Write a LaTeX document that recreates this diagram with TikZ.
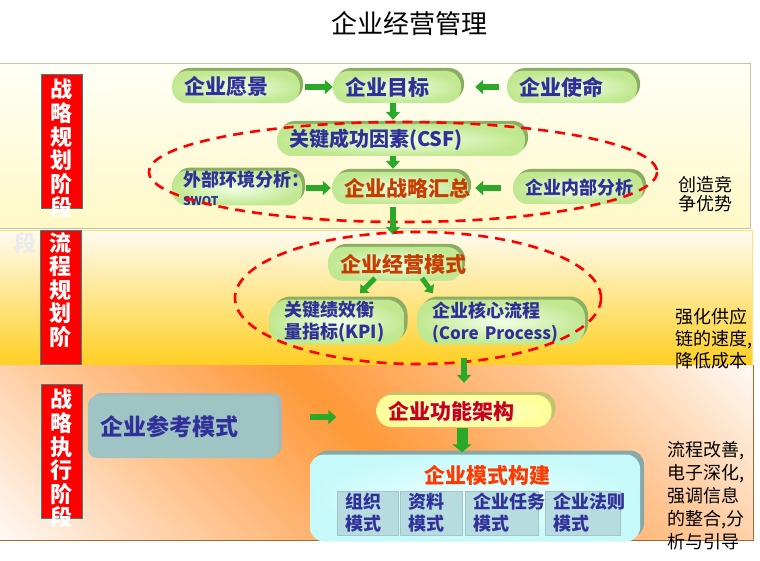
\documentclass[tikz,border=0pt]{standalone}
\usepackage{fontspec}
\setmainfont{Noto Sans CJK SC}
\usetikzlibrary{arrows.meta,shadows}
\definecolor{txtblue}{HTML}{30309A}
\definecolor{txtorange}{HTML}{C83C00}
\definecolor{txtcrimson}{HTML}{C8001E}
\definecolor{txtred}{HTML}{FF3A00}
\definecolor{pillout}{HTML}{C0E890}
\definecolor{pillin}{HTML}{F2FFE6}
\definecolor{pillshadow}{HTML}{8CAE62}
\definecolor{arrowgreen}{HTML}{29A829}
\definecolor{labelred}{HTML}{FF0000}
\definecolor{labelframe}{HTML}{3C8080}
\definecolor{bandAtop}{HTML}{FFFFF7}
\definecolor{bandAbot}{HTML}{FFF8C6}
\definecolor{bandAline}{HTML}{C6C4A8}
\definecolor{bandBtop}{HTML}{FFFCF2}
\definecolor{bandBmid}{HTML}{FFF0B8}
\definecolor{bandBbot}{HTML}{FFCF22}
\definecolor{bandBline}{HTML}{FFE070}
\definecolor{bandCpale}{HTML}{FFF8F2}
\definecolor{bandCpeach}{HTML}{FFC592}
\definecolor{bandCorange}{HTML}{FF9838}
\definecolor{bandCline}{HTML}{A86830}
\definecolor{reffill}{HTML}{9EC4C4}
\definecolor{refshadow}{HTML}{A8B8B8}
\definecolor{funcout}{HTML}{FFFF9A}
\definecolor{funcin}{HTML}{FFFFDC}
\definecolor{funcshadow}{HTML}{C4C470}
\definecolor{buildout}{HTML}{C6FAFA}
\definecolor{buildin}{HTML}{EEFFFF}
\definecolor{buildshadow}{HTML}{88A8A8}
\definecolor{subfill}{HTML}{B6DCE0}
\definecolor{subline}{HTML}{A4C4C8}
\definecolor{ghost}{HTML}{EBEBEB}
\pgfdeclarehorizontalshading{bandthree}{100bp}{color(0bp)=(bandCpale); color(15bp)=(bandCpale); color(32bp)=(bandCpeach); color(50bp)=(bandCorange); color(68bp)=(bandCpeach); color(85bp)=(bandCpale); color(100bp)=(bandCpale)}
\begin{document}
\begin{tikzpicture}[x=1pt,y=-1pt,
  pillbase/.style={rounded corners=15pt, inner xsep=12pt, inner ysep=0pt, minimum height=32pt, align=left},
  pill/.style={pillbase, inner color=pillin, outer color=pillout,
    general shadow={fill=pillshadow, shadow xshift=3pt, shadow yshift=3pt},
    text=txtblue, font=\bfseries\fontsize{21pt}{24pt}\selectfont},
  funcpill/.style={pillbase, inner color=funcin, outer color=funcout,
    general shadow={fill=funcshadow, shadow xshift=4pt, shadow yshift=3pt},
    text=txtcrimson, font=\bfseries\fontsize{21pt}{24pt}\selectfont},
  refbox/.style={fill=reffill, rounded corners=9pt, align=left, inner ysep=0pt,
    general shadow={fill=refshadow, shadow xshift=4pt, shadow yshift=3pt},
    text=txtblue, font=\bfseries\fontsize{23pt}{26pt}\selectfont},
  buildbox/.style={rounded corners=14pt, inner color=buildin, outer color=buildout,
    general shadow={fill=buildshadow, shadow xshift=4pt, shadow yshift=4pt}},
  subbox/.style={fill=subfill, draw=subline, line width=0.6pt, align=left, inner xsep=8pt,
    inner ysep=0pt, minimum height=44pt, text=txtblue, font=\bfseries\fontsize{18pt}{22pt}\selectfont},
  labelbox/.style={fill=labelred, draw=labelframe, line width=0.8pt, inner sep=0pt, minimum width=41pt, minimum height=134pt},
  labeltext/.style={text=white, font=\bfseries\fontsize{22pt}{23.6pt}\selectfont, align=center, inner sep=0pt, anchor=north},
  note/.style={text=black, align=left, inner sep=0pt, anchor=north west},
  garrow/.style={draw=arrowgreen, line width=6.5pt, -{Triangle[width=14pt,length=8pt]}},
  garrowsmall/.style={draw=arrowgreen, line width=5pt, -{Triangle[width=12pt,length=7pt]}},
  garrowbig/.style={draw=arrowgreen, line width=11pt, -{Triangle[width=19pt,length=8pt]}},
  dashring/.style={draw=red, line width=2.6pt, dash pattern=on 10pt off 7pt}
]
\useasboundingbox (0,0) rectangle (760,561);
\fill[white] (0,0) rectangle (760,561);
% bands
\shade[top color=bandAtop, bottom color=bandAbot] (0,63) rectangle (750,228);
\draw[bandAline, line width=0.8pt] (0,63) -- (750,63) -- (750,228) -- (0,228);
\shade[top color=bandBtop, middle color=bandBmid, bottom color=bandBbot] (0,230) rectangle (752,365);
\draw[bandBline, line width=0.8pt] (0,230) -- (752,230) -- (752,365);
\shade[shading=bandthree, shading angle=45] (0,365) rectangle (753,540);
\draw[bandCline, line width=1pt] (753,365) -- (753,540) -- (0,540);

% title
\node[font=\fontsize{26pt}{30pt}\selectfont] (title) at (409,24) {企业经营管理};

% stage labels
\node[labelbox] (lab1) at (61.5,141) {};
\node[labeltext] (lab1t) at (61.5,79) {战\\略\\规\\划\\阶\\段};
\node[text=ghost, font=\bfseries\fontsize{22pt}{24pt}\selectfont, inner sep=0pt] (ghostduan) at (25,243) {段};
\node[labelbox] (lab2) at (60.5,297) {};
\node[labeltext] (lab2t) at (60.5,232) {流\\程\\规\\划\\阶};
\node[labelbox] (lab3) at (61.5,451) {};
\node[labeltext] (lab3t) at (61.5,389) {战\\略\\执\\行\\阶\\段};

% band 1
\node[pill, text width=104pt] (vision) at (236,87) {企业愿景};
\node[pill, text width=104pt] (goal) at (397,87) {企业目标};
\node[pill, text width=106pt] (mission) at (572,87) {企业使命};
\node[pill, text width=224pt, font=\bfseries\fontsize{20pt}{24pt}\selectfont] (csf) at (401,140) {关键成功因素(CSF)};
\node[pill, text width=108pt, inner xsep=11pt, font=\bfseries\fontsize{18pt}{19pt}\selectfont] (ext) at (237,188) {外部环境分析：\\{\fontsize{12pt}{13pt}\selectfont SWOT}};
\node[pill, text width=112pt, text=txtorange] (summary) at (400,188) {企业战略汇总};
\node[pill, text width=106pt, font=\bfseries\fontsize{18pt}{22pt}\selectfont] (internal) at (578,188) {企业内部分析};

\draw[garrow, shorten <=5pt] (vision) -- (goal);
\draw[garrow, shorten <=8pt, shorten >=14pt] (mission) -- (goal);
\draw[garrow, shorten >=4pt] ([xshift=-4pt]goal.south) -- ([xshift=-4pt]goal.south |- csf.north);
\draw[garrow, shorten >=3pt] ([xshift=-8pt]csf.south) -- ([xshift=-8pt]csf.south |- summary.north);
\draw[garrow, shorten <=4pt, shorten >=1pt] (ext) -- (summary);
\draw[garrow, shorten <=12pt, shorten >=7pt] (internal) -- (summary);

\draw[dashring] (403,172) ellipse [x radius=254, y radius=50];

% band 2
\node[pill, text width=110pt, minimum height=34pt, text=txtorange] (model) at (395,264) {企业经营模式};
\node[pill, rounded corners=18pt, minimum height=45pt, text width=105pt, inner xsep=15pt, font=\bfseries\fontsize{18pt}{22pt}\selectfont] (kpi) at (337,322) {关键绩效衡\\量指标(KPI)};
\node[pill, rounded corners=18pt, minimum height=45pt, text width=138pt, inner xsep=15pt, font=\bfseries\fontsize{18pt}{22pt}\selectfont] (core) at (501,322) {企业核心流程\\{\fontsize{17pt}{22pt}\selectfont (Core Process)}};

\draw[garrow, shorten <=3pt, shorten >=12pt] ([xshift=-7pt]summary.south) -- ([xshift=-7pt]summary.south |- model.north);
\draw[garrowsmall] ([xshift=-20pt,yshift=3pt]model.south) -- ([xshift=23pt,yshift=6pt]kpi.north);
\draw[garrowsmall] ([xshift=27pt,yshift=3pt]model.south) -- ([xshift=-68pt,yshift=6pt]core.north);

\draw[dashring] (418,298) ellipse [x radius=183, y radius=66];

% band 3
\node[refbox, minimum width=190pt, minimum height=62pt, text width=166pt, inner xsep=12pt] (ref) at (183,427) {企业参考模式};
\node[funcpill, text width=151pt, inner xsep=12pt] (func) at (464,411) {企业功能架构};
\node[buildbox, minimum width=330pt, minimum height=87pt] (build) at (475,498) {};
\node[text=txtred, font=\bfseries\fontsize{21pt}{24pt}\selectfont] (buildtitle) at (487,475) {企业模式构建};
\node[subbox, text width=45pt] (org) at (367.5,513) {组织\\模式};
\node[subbox, text width=46pt] (data) at (431,513) {资料\\模式};
\node[subbox, text width=57pt] (task) at (501.5,513) {企业任务\\模式};
\node[subbox, text width=59pt] (rule) at (582.5,513) {企业法则\\模式};

\draw[garrow, shorten >=12pt] ([yshift=-13pt]core.south -| func.north) -- (func.north);
\draw[garrow, shorten <=32pt, shorten >=40pt] ([yshift=-6pt]ref.east |- func.west) -- ([yshift=-6pt]func.west);
\draw[garrowbig, shorten <=1pt, shorten >=2pt] ([xshift=-2pt]func.south) -- ([xshift=-2pt]func.south |- build.north);

% notes
\node[note, font=\fontsize{18pt}{19.5pt}\selectfont] (note1) at (678,176) {创造竞\\争优势};
\node[note, font=\fontsize{18pt}{22pt}\selectfont] (note2) at (675,308) {强化供应\\链的速度,\\降低成本};
\node[note, font=\fontsize{18pt}{23pt}\selectfont] (note3) at (667,441) {流程改善,\\电子深化,\\强调信息\\的整合,分\\析与引导};
\end{tikzpicture}
\end{document}
